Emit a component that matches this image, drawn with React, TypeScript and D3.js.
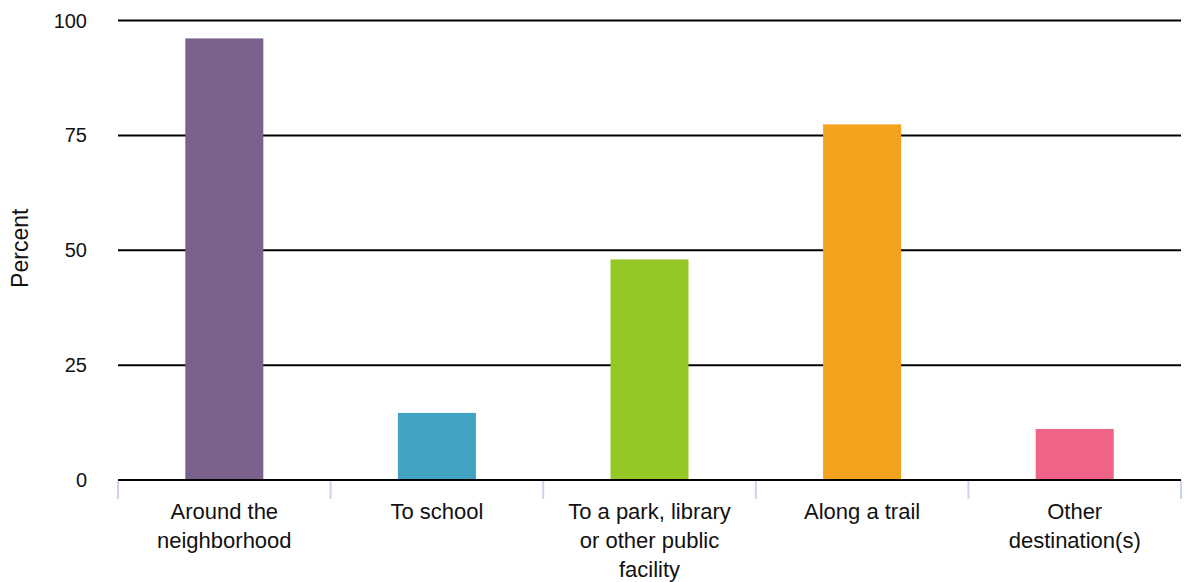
import React, { useEffect, useRef } from "react";
import * as d3 from "d3";

// Share of respondents by where they walk or bike
const categories = [
  "Around the\nneighborhood",
  "To school",
  "To a park, library\nor other public\nfacility",
  "Along a trail",
  "Other\ndestination(s)",
];
const values = [96.1, 14.6, 48.0, 77.4, 11.1];
const barColors = ["#7b618e", "#41a2c2", "#95c826", "#f4a41c", "#ef6486"];
const yTicks = [0, 25, 50, 75, 100];
const yTitle = "Percent";

const W = 1186;
const H = 582;
const FONT = "'Liberation Sans', Arial, Helvetica, sans-serif";

export default function App() {
  const ref = useRef<SVGSVGElement | null>(null);

  useEffect(() => {
    document.body.style.margin = "0";
    const svg = d3.select(ref.current);
    svg.selectAll("*").remove();

    const x = d3.scaleBand<string>().domain(categories).range([118, 1181]).padding(0);
    const y = d3.scaleLinear().domain([0, 100]).range([480, 20.5]);
    const barW = x.bandwidth() * 0.367;

    // horizontal grid lines
    svg
      .append("g")
      .selectAll("line")
      .data(yTicks)
      .join("line")
      .attr("x1", 118)
      .attr("x2", 1181)
      .attr("y1", (d) => y(d))
      .attr("y2", (d) => y(d))
      .attr("stroke", "#000")
      .attr("stroke-width", 2);

    // y tick labels
    svg
      .append("g")
      .selectAll("text")
      .data(yTicks)
      .join("text")
      .attr("x", 87)
      .attr("y", (d) => y(d))
      .attr("dy", "0.35em")
      .attr("text-anchor", "end")
      .attr("font-family", FONT)
      .attr("font-size", 20)
      .attr("fill", "#111")
      .text((d) => String(d));

    // y axis title
    svg
      .append("text")
      .attr("transform", `translate(28,${y(50) - 2}) rotate(-90)`)
      .attr("text-anchor", "middle")
      .attr("font-family", FONT)
      .attr("font-size", 23)
      .attr("fill", "#111")
      .text(yTitle);

    // bars
    svg
      .append("g")
      .selectAll("rect")
      .data(values)
      .join("rect")
      .attr("x", (_, i) => (x(categories[i]) as number) + x.bandwidth() / 2 - barW / 2)
      .attr("y", (d) => y(d))
      .attr("width", barW)
      .attr("height", (d) => y(0) - y(d))
      .attr("fill", (_, i) => barColors[i]);

    // baseline drawn over bars
    svg
      .append("line")
      .attr("x1", 118)
      .attr("x2", 1181)
      .attr("y1", y(0))
      .attr("y2", y(0))
      .attr("stroke", "#000")
      .attr("stroke-width", 2);

    // category boundary ticks
    const bounds = [...categories.map((c) => x(c) as number), 1181];
    svg
      .append("g")
      .selectAll("line")
      .data(bounds)
      .join("line")
      .attr("x1", (d) => d)
      .attr("x2", (d) => d)
      .attr("y1", y(0) + 1)
      .attr("y2", 499)
      .attr("stroke", "#c9d5ea")
      .attr("stroke-width", 2);

    // category labels
    const labels = svg
      .append("g")
      .selectAll("text")
      .data(categories)
      .join("text")
      .attr("text-anchor", "middle")
      .attr("font-family", FONT)
      .attr("font-size", 22)
      .attr("fill", "#111");
    labels.each(function (d) {
      const t = d3.select(this);
      const cx = (x(d) as number) + x.bandwidth() / 2;
      d.split("\n").forEach((line, i) => {
        t.append("tspan")
          .attr("x", cx)
          .attr("y", 519 + i * 29)
          .text(line);
      });
    });
  }, []);

  return <svg ref={ref} width={W} height={H} style={{ display: "block", background: "#fff" }} />;
}
